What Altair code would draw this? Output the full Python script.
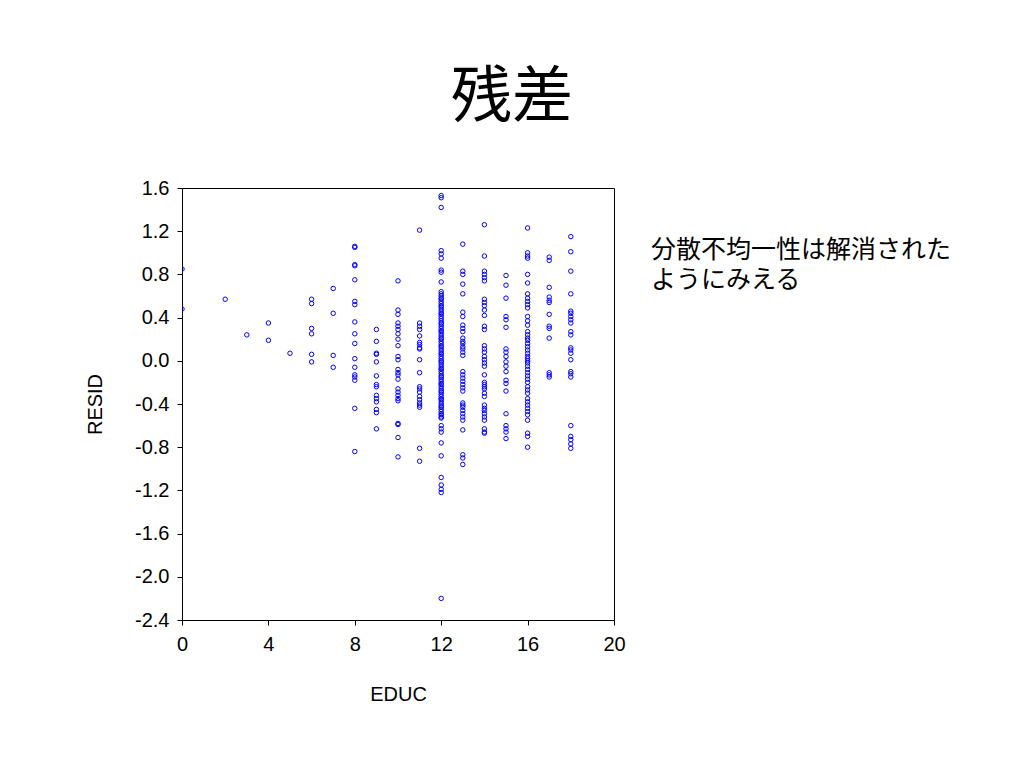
import altair as alt
import pandas as pd

# Residuals, grouped by years of education (EDUC)
r0 = [0.85, 0.48]
r2 = [0.57]
r3 = [0.24]
r4 = [0.35, 0.19]
r5 = [0.07]
r6 = [0.57, 0.53, 0.30, 0.25, 0.06, -0.01]
r7 = [0.67, 0.44, 0.05, -0.06]
r8 = [1.06, 1.05, 0.89, 0.88, 0.75, 0.55, 0.52, 0.36, 0.25, 0.16, 0.02, -0.06,
      -0.13, -0.15, -0.18, -0.44, -0.84]
r9 = [0.29, 0.18, 0.07, 0.06, -0.01, -0.14, -0.22, -0.24, -0.32, -0.35, -0.38,
      -0.45, -0.48, -0.63]
r10 = [0.74, 0.47, 0.43, 0.35, 0.32, 0.29, 0.25, 0.20, 0.14, 0.04, 0.01, -0.08,
       -0.11, -0.13, -0.17, -0.26, -0.29, -0.32, -0.35, -0.37, -0.58, -0.59,
       -0.71, -0.89]
r11 = [1.21, 0.35, 0.32, 0.29, 0.23, 0.17, 0.15, 0.12, 0.11, 0.01, -0.11, -0.24,
       -0.26, -0.29, -0.33, -0.36, -0.39, -0.41, -0.43, -0.81, -0.93]
r12 = [1.53, 1.51, 1.42, 1.02, 0.99, 0.95, 0.84, 0.82, 0.73,
       0.64, 0.62, 0.60, 0.58, 0.57, 0.55, 0.53, 0.51, 0.50, 0.48, 0.46, 0.44,
       0.43, 0.41, 0.39, 0.37, 0.35, 0.34, 0.32, 0.30, 0.28, 0.27, 0.25, 0.23,
       0.21, 0.20, 0.18, 0.16, 0.14, 0.13, 0.11, 0.09, 0.07, 0.06, 0.04, 0.02,
       0.00, -0.01, -0.03, -0.05, -0.07, -0.08, -0.10, -0.12, -0.14, -0.15,
       -0.17, -0.19, -0.21, -0.22, -0.24, -0.26, -0.28, -0.29, -0.31, -0.33,
       -0.35, -0.36, -0.38, -0.40, -0.42, -0.43, -0.45, -0.47, -0.49, -0.50,
       -0.52, -0.53, -0.60, -0.63, -0.66, -0.76, -0.88, -1.08, -1.15, -1.19,
       -1.22, -2.20]
r13 = [1.08, 0.83, 0.80, 0.71, 0.62, 0.45, 0.41, 0.33, 0.30, 0.27, 0.21, 0.18,
       0.16, 0.13, 0.11, 0.08, 0.05, -0.10, -0.13, -0.16, -0.19, -0.22, -0.25,
       -0.28, -0.39, -0.41, -0.43, -0.46, -0.49, -0.52, -0.55, -0.64, -0.87,
       -0.90, -0.96]
r14 = [1.26, 0.97, 0.83, 0.80, 0.77, 0.74, 0.57, 0.54, 0.51, 0.47, 0.42, 0.32,
       0.29, 0.14, 0.11, 0.08, 0.04, 0.01, -0.02, -0.05, -0.13, -0.20, -0.22,
       -0.24, -0.26, -0.30, -0.33, -0.41, -0.44, -0.46, -0.49, -0.52, -0.55,
       -0.63, -0.66, -0.67]
r15 = [0.79, 0.70, 0.58, 0.41, 0.38, 0.31, 0.11, 0.08, 0.04, -0.01, -0.05,
       -0.10, -0.18, -0.21, -0.28, -0.49, -0.60, -0.63, -0.66, -0.72]
r16 = [1.23, 1.00, 0.97, 0.95, 0.80, 0.72, 0.62, 0.58, 0.55, 0.52, 0.49, 0.41,
       0.37, 0.33, 0.27, 0.24, 0.21, 0.19, 0.16, 0.13, 0.10, 0.07, 0.04, 0.02,
       0.00, -0.02, -0.05, -0.08, -0.11, -0.14, -0.17, -0.20, -0.24, -0.27,
       -0.30, -0.35, -0.38, -0.41, -0.44, -0.47, -0.50, -0.55, -0.67, -0.70,
       -0.80]
r17 = [0.96, 0.93, 0.68, 0.59, 0.56, 0.54, 0.43, 0.32, 0.30, 0.21, -0.11,
       -0.13, -0.15]
r18 = [1.15, 1.01, 0.83, 0.62, 0.46, 0.44, 0.41, 0.38, 0.35, 0.27, 0.24, 0.12,
       0.10, 0.07, 0.01, -0.10, -0.12, -0.15, -0.60, -0.70, -0.73, -0.77, -0.81]

groups = {0: r0, 2: r2, 3: r3, 4: r4, 5: r5, 6: r6, 7: r7, 8: r8, 9: r9,
          10: r10, 11: r11, 12: r12, 13: r13, 14: r14, 15: r15, 16: r16,
          17: r17, 18: r18}

x_ticks = [0, 4, 8, 12, 16, 20]
y_ticks = [1.6, 1.2, 0.8, 0.4, 0.0, -0.4, -0.8, -1.2, -1.6, -2.0, -2.4]

title_text = "残差"
note_lines = ["分散不均一性は解消された", "ようにみえる"]

rows = [{"EDUC": e, "RESID": v} for e, vals in groups.items() for v in vals]
df = pd.DataFrame(rows)

W = 432
H = 432

points = alt.Chart(df).mark_point(
    shape="circle", filled=False, color="#0000FF", size=20, strokeWidth=1,
    clip=True, opacity=1
).encode(
    x=alt.X("EDUC:Q", scale=alt.Scale(domain=[0, 20], nice=False, zero=False),
            axis=alt.Axis(values=x_ticks, format="d", title="EDUC",
                          titlePadding=30, labelPadding=9)),
    y=alt.Y("RESID:Q", scale=alt.Scale(domain=[-2.4, 1.6], nice=False, zero=False),
            axis=alt.Axis(values=y_ticks, format=".1f", title="RESID",
                          titlePadding=29, labelPadding=8)),
)

title_mark = alt.Chart(pd.DataFrame({"t": [title_text]})).mark_text(
    font="Noto Sans CJK JP", fontSize=61, align="center", baseline="middle",
    color="black"
).encode(text="t:N", x=alt.value(330), y=alt.value(-89))

note = alt.Chart(pd.DataFrame({"t": ["\n".join(note_lines)]})).mark_text(
    font="Noto Sans CJK JP", fontSize=25, align="left", baseline="alphabetic",
    lineBreak="\n", lineHeight=30, color="black"
).encode(text="t:N", x=alt.value(469), y=alt.value(70))

chart = alt.layer(points, title_mark, note).properties(
    width=W, height=H,
    autosize=alt.AutoSizeParams(type="none"),
    padding={"left": 174, "top": 180, "right": 400, "bottom": 140},
).configure(
    locale={"number": {"decimal": ".", "thousands": ",", "grouping": [3],
                       "currency": ["", ""], "minus": "-"}}
).configure_view(
    stroke="black", strokeWidth=1
).configure_axis(
    grid=False, domainColor="black", tickColor="black", tickSize=5,
    labelFont="Liberation Sans", labelFontSize=20, labelColor="black",
    titleFont="Liberation Sans", titleFontSize=20,
    titleFontWeight="normal", titleColor="black", domainWidth=1, tickWidth=1,
    labelFlush=False,
)

chart.save("out.html", embed_options={"renderer": "svg", "actions": False})
